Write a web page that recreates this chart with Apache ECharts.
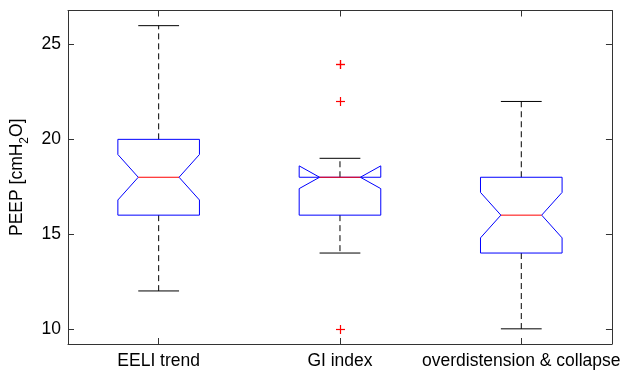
<!DOCTYPE html>
<html>
<head>
<meta charset="utf-8">
<script src="https://cdn.jsdelivr.net/npm/echarts@6/dist/echarts.min.js"></script>
<style>
  html, body { margin: 0; padding: 0; background: #fff; }
  #chart { width: 623px; height: 374px; }
</style>
</head>
<body>
<div id="chart"></div>
<script>
// Notched box plot of PEEP per titration method
const categories = ['EELI trend', 'GI index', 'overdistension & collapse'];
const whiskerLow  = [12, 14, 10];
const quartile1   = [16, 16, 14];
const notchLow    = [16.8, 17.4, 14.8];
const medians     = [18, 18, 16];
const notchHigh   = [19.2, 18.6, 17.2];
const quartile3   = [20, 18, 18];
const whiskerHigh = [26, 19, 22];
// outliers as [category index, value]
const outliers = [[1, 24], [1, 24], [1, 22], [1, 10]];
const yTicks = [10, 15, 20, 25];

const boxData = categories.map((c, i) => [
  i, whiskerLow[i], quartile1[i], notchLow[i], medians[i], notchHigh[i], quartile3[i], whiskerHigh[i]
]);

const FONT = 'Liberation Sans, Arial, Helvetica, sans-serif';
const AXIS = '#333';
const Y_MIN = 9.2, Y_MAX = 26.8;

function renderBox(params, api) {
  const i = api.value(0);
  const band = api.size([1, 0])[0];
  const hw = band * 0.225;   // half box width
  const hn = band * 0.1125;  // half width at the notch waist
  const cx = api.coord([i, 0])[0];
  const y = v => api.coord([i, api.value(v)])[1];
  const wlo = y(1), q1 = y(2), nlo = y(3), med = y(4), nhi = y(5), q3 = y(6), whi = y(7);
  const L = cx - hw, R = cx + hw;
  const dash = { stroke: '#000', lineWidth: 1, lineDash: [6, 4] };
  const solid = { stroke: '#000', lineWidth: 1 };
  return {
    type: 'group',
    children: [
      { type: 'line', shape: { x1: cx, y1: q3, x2: cx, y2: whi }, style: dash },
      { type: 'line', shape: { x1: cx, y1: q1, x2: cx, y2: wlo }, style: dash },
      { type: 'line', shape: { x1: cx - hn, y1: whi, x2: cx + hn, y2: whi }, style: solid },
      { type: 'line', shape: { x1: cx - hn, y1: wlo, x2: cx + hn, y2: wlo }, style: solid },
      {
        type: 'polygon',
        shape: {
          points: [
            [L, q1], [L, nlo], [cx - hn, med], [L, nhi], [L, q3],
            [R, q3], [R, nhi], [cx + hn, med], [R, nlo], [R, q1]
          ]
        },
        style: { fill: 'none', stroke: '#0000ff', lineWidth: 1 }
      },
      { type: 'line', shape: { x1: cx - hn, y1: med, x2: cx + hn, y2: med }, style: { stroke: '#ff0000', lineWidth: 1 } }
    ]
  };
}

function renderPlus(params, api) {
  const p = api.coord([api.value(0), api.value(1)]);
  const x = Math.round(p[0]) + 0.5, y = Math.round(p[1]) + 0.5;
  const s = 4.5;
  const st = { stroke: '#ff0000', lineWidth: 1.2 };
  return {
    type: 'group',
    children: [
      { type: 'line', shape: { x1: x - s, y1: y, x2: x + s, y2: y }, style: st },
      { type: 'line', shape: { x1: x, y1: y - s, x2: x, y2: y + s }, style: st }
    ]
  };
}

const chart = echarts.init(document.getElementById('chart'), null, { renderer: 'canvas' });

const yBase = {
  type: 'value', min: Y_MIN, max: Y_MAX,
  splitLine: { show: false },
  axisLine: { show: true, lineStyle: { color: AXIS, width: 1 } },
  axisTick: { show: true, inside: true, length: 6, customValues: yTicks, lineStyle: { color: AXIS } }
};

chart.setOption({
  animation: false,
  backgroundColor: '#fff',
  textStyle: { fontFamily: FONT },
  grid: { left: 68, right: 8, top: 10.5, bottom: 30, containLabel: false },
  xAxis: [
    {
      type: 'category', data: categories, position: 'bottom',
      axisLine: { show: true, lineStyle: { color: AXIS } },
      axisTick: { show: true, inside: true, alignWithLabel: true, length: 6, lineStyle: { color: AXIS } },
      axisLabel: { color: '#000', fontSize: 17.5, fontFamily: FONT, margin: 8, interval: 0 }
    },
    {
      type: 'category', data: categories, position: 'top',
      axisLine: { show: true, lineStyle: { color: AXIS } },
      axisTick: { show: true, inside: true, alignWithLabel: true, length: 6, lineStyle: { color: AXIS } },
      axisLabel: { show: false }
    }
  ],
  yAxis: [
    Object.assign({}, yBase, {
      position: 'left',
      axisLabel: { color: '#000', fontSize: 17.5, fontFamily: FONT, margin: 7, customValues: yTicks },
      name: '{a|PEEP [cmH}{s|2}{a|O]}',
      nameLocation: 'middle',
      nameGap: 40,
      nameTextStyle: {
        rich: {
          a: { fontSize: 17.5, fontFamily: FONT, color: '#000', lineHeight: 18, verticalAlign: 'top' },
          s: { fontSize: 12, fontFamily: FONT, color: '#000', lineHeight: 12, padding: [10, 0, 0, 0], verticalAlign: 'top' }
        }
      }
    }),
    Object.assign({}, yBase, {
      position: 'right',
      axisLabel: { show: false }
    })
  ],
  series: [
    {
      type: 'custom', xAxisIndex: 0, yAxisIndex: 0,
      renderItem: renderBox,
      encode: { x: 0, y: [1, 2, 3, 4, 5, 6, 7] },
      data: boxData, silent: true
    },
    {
      type: 'custom', xAxisIndex: 0, yAxisIndex: 0,
      renderItem: renderPlus,
      encode: { x: 0, y: 1 },
      data: outliers, silent: true
    }
  ]
});
</script>
</body>
</html>
